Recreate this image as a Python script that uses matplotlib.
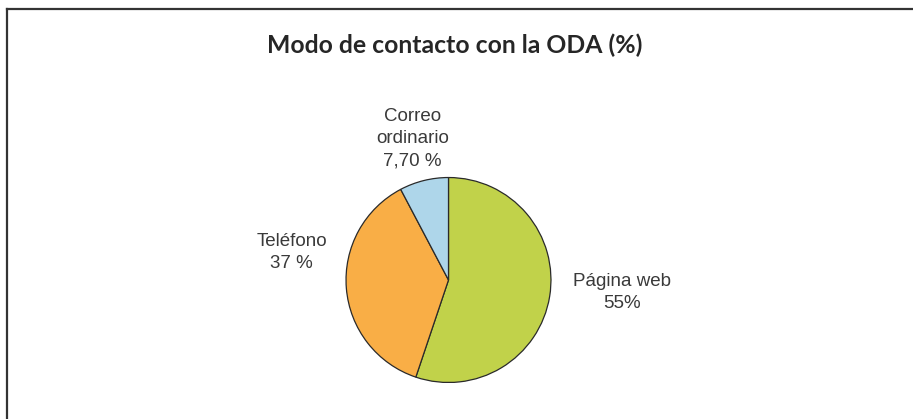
import matplotlib
matplotlib.use('Agg')
import matplotlib.pyplot as plt

# data
labels = ['Página web\n55%', 'Teléfono\n37 %', 'Correo\nordinario\n7,70 %']
values = [55, 37, 7.7]
colors = ['#C1D24A', '#F9AE46', '#AED6EA']
title = 'Modo de contacto con la ODA (%)'

# label placement (in pie radius units)
label_pos = [(1.69, -0.12), (-1.53, 0.27), (-0.35, 1.38)]

W, H = 913, 419
fig = plt.figure(figsize=(W / 100, H / 100), dpi=100)
fig.patch.set_facecolor('white')

# frame lines (top and left)
fig.add_artist(plt.Line2D([6.5 / W, 1], [1 - 9.5 / H, 1 - 9.5 / H], color='#333333', lw=1.6))
fig.add_artist(plt.Line2D([6.5 / W, 6.5 / W], [0, 1 - 9.5 / H], color='#333333', lw=1.6))

cx, cy, r = 448.5, 419 - 280, 103.5
ax = fig.add_axes([(cx - r) / W, (cy - r) / H, 2 * r / W, 2 * r / H])
ax.pie(values, colors=colors, startangle=90, counterclock=False, radius=1,
       wedgeprops=dict(edgecolor='#2a2a2a', linewidth=0.9))
ax.set_xlim(-1.01, 1.01)
ax.set_ylim(-1.01, 1.01)
ax.set_axis_off()

for txt, (x, y) in zip(labels, label_pos):
    ax.text(x, y, txt, ha='center', va='center', fontsize=13.5,
            family='Liberation Sans', color='#3a3a3a', linespacing=1.38,
            clip_on=False)

fig.text(455 / W, 1 - 45 / H, title, ha='center', va='center', fontsize=17.8,
         family='Lato', fontweight='bold', color='#262626')

fig.savefig('out.png', dpi=100)
